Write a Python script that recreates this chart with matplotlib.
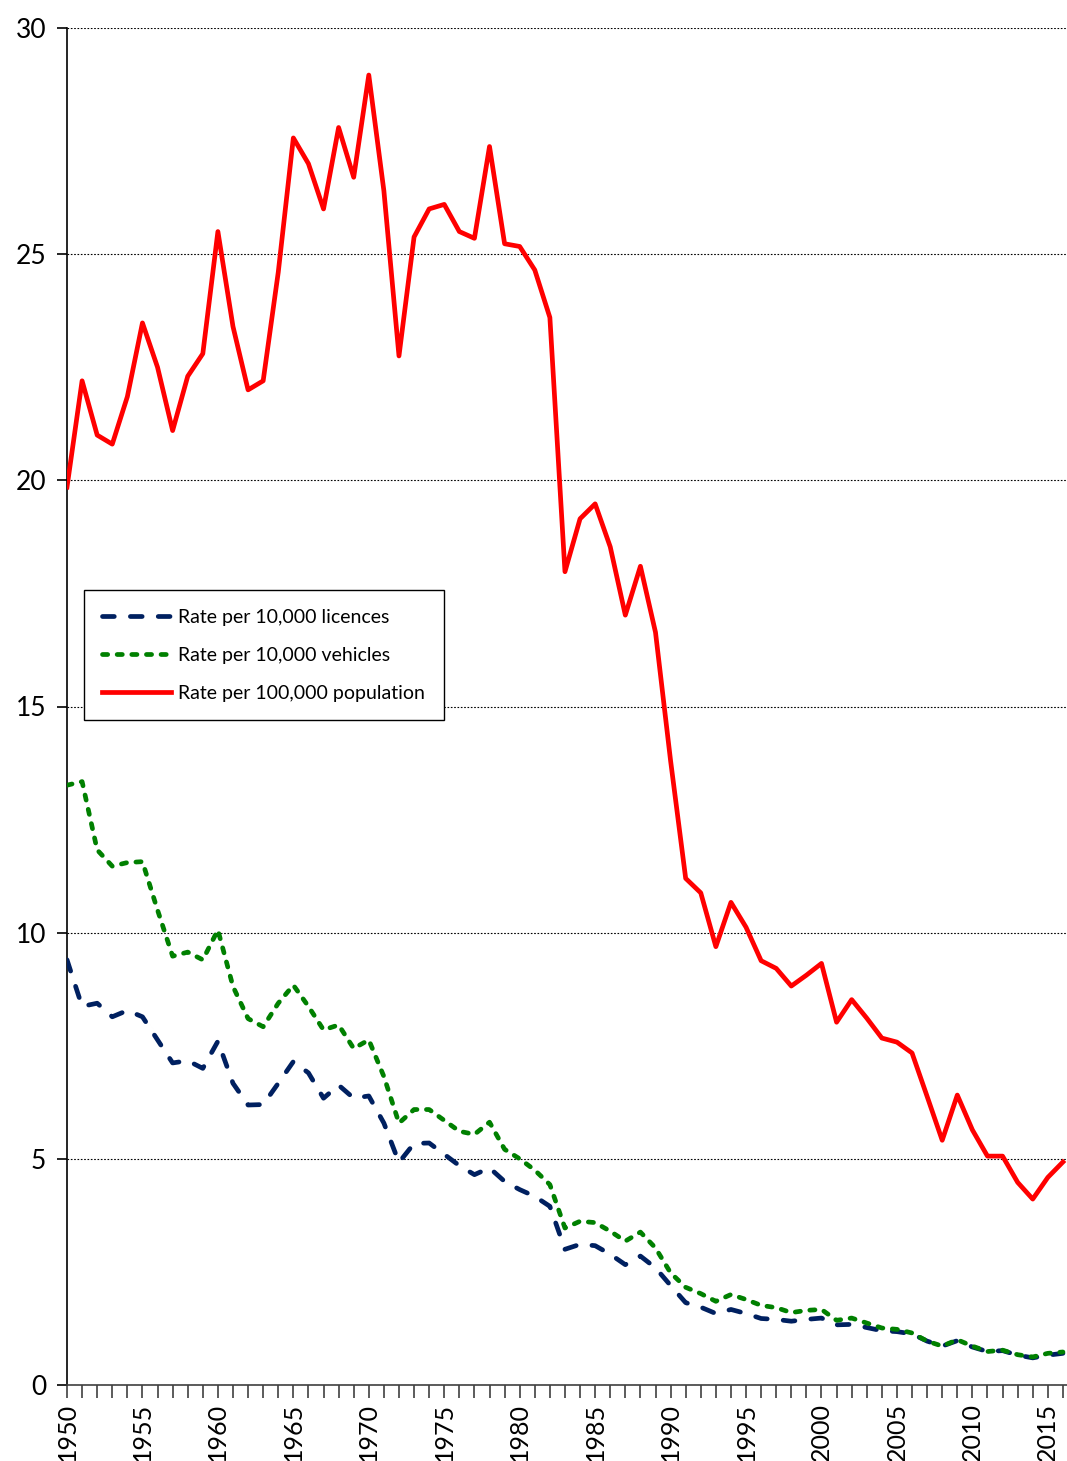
import matplotlib.pyplot as plt
from matplotlib.ticker import MultipleLocator

plt.rcParams['font.family'] = ['Lato', 'DejaVu Sans']

years = list(range(1950, 2017))

per_100k_population = [
    19.85, 22.2, 21.0, 20.8, 21.85, 23.48, 22.5, 21.1, 22.3, 22.8,
    25.5, 23.4, 22.0, 22.2, 24.6, 27.57, 27.0, 26.0, 27.8, 26.7,
    28.96, 26.4, 22.75, 25.38, 26.0, 26.1, 25.5, 25.35, 27.38, 25.23,
    25.17, 24.65, 23.6, 17.98, 19.15, 19.48, 18.53, 17.02, 18.1, 16.64,
    13.8, 11.2, 10.88, 9.69, 10.67, 10.12, 9.38, 9.21, 8.82, 9.06,
    9.32, 8.02, 8.52, 8.11, 7.67, 7.58, 7.34, 6.38, 5.41, 6.41,
    5.64, 5.06, 5.06, 4.48, 4.11, 4.59, 4.93,
]

per_10k_vehicles = [
    13.26, 13.34, 11.83, 11.47, 11.55, 11.57, 10.5, 9.48, 9.57, 9.4,
    10.06, 8.81, 8.1, 7.92, 8.44, 8.84, 8.37, 7.85, 7.96, 7.44,
    7.63, 6.82, 5.79, 6.09, 6.09, 5.85, 5.61, 5.54, 5.81, 5.21,
    5.0, 4.75, 4.43, 3.47, 3.62, 3.59, 3.4, 3.18, 3.38, 3.03,
    2.48, 2.16, 2.02, 1.85, 2.0, 1.89, 1.76, 1.71, 1.6, 1.65,
    1.67, 1.43, 1.48, 1.37, 1.26, 1.23, 1.15, 0.97, 0.86, 1.0,
    0.86, 0.74, 0.77, 0.67, 0.62, 0.7, 0.73,
]

per_10k_licences = [
    9.4, 8.37, 8.44, 8.14, 8.28, 8.14, 7.63, 7.12, 7.17, 7.0,
    7.6, 6.67, 6.19, 6.2, 6.67, 7.15, 6.9, 6.34, 6.63, 6.34,
    6.39, 5.79, 4.92, 5.34, 5.35, 5.1, 4.85, 4.65, 4.8, 4.5,
    4.32, 4.17, 3.95, 3.0, 3.11, 3.08, 2.89, 2.66, 2.85, 2.59,
    2.2, 1.82, 1.72, 1.58, 1.67, 1.58, 1.47, 1.45, 1.41, 1.45,
    1.48, 1.33, 1.34, 1.27, 1.2, 1.18, 1.13, 0.97, 0.86, 0.98,
    0.84, 0.74, 0.76, 0.66, 0.6, 0.66, 0.7,
]

fig = plt.figure(figsize=(10.67, 14.61), dpi=100)
ax = fig.add_axes([67 / 1067, 76 / 1461, 1000 / 1067, 1357 / 1461])

ax.plot(years, per_10k_licences, color='#002060', lw=3.4,
        dashes=(2.5, 3.4), dash_capstyle='round',
        label='Rate per 10,000 licences', zorder=3)
ax.plot(years, per_10k_vehicles, color='#008000', lw=3.4,
        dashes=(1.1, 2.0), dash_capstyle='round',
        label='Rate per 10,000 vehicles', zorder=3)
ax.plot(years, per_100k_population, color='#ff0000', lw=3.4,
        label='Rate per 100,000 population', zorder=4)

ax.set_xlim(1950, 2016.27)
ax.set_ylim(0, 30)
ax.yaxis.set_major_locator(MultipleLocator(5))
ax.xaxis.set_major_locator(MultipleLocator(5))
ax.xaxis.set_minor_locator(MultipleLocator(1))

ax.grid(axis='y', color='black', linestyle=(0, (1.5, 1.5)), linewidth=0.8)
ax.set_axisbelow(True)

for side in ['top', 'right']:
    ax.spines[side].set_visible(False)
ax.spines['left'].set_linewidth(1.2)
ax.spines['bottom'].set_linewidth(1.2)
ax.spines['bottom'].set_color('#404040')

ax.tick_params(axis='y', labelsize=19, length=7, width=1.2, pad=8)
ax.tick_params(axis='x', which='both', length=9, width=1.2, color='#404040')
ax.tick_params(axis='x', which='major', labelsize=18, labelrotation=90, pad=4)

leg = ax.legend(loc='lower left', bbox_to_anchor=(0.017, 0.49),
                fontsize=14, frameon=True, fancybox=False, framealpha=1,
                edgecolor='black', handlelength=3.5, handletextpad=0.4,
                labelspacing=1.08, borderpad=0.95, borderaxespad=0)
leg.get_frame().set_linewidth(1.0)

fig.savefig('out.png', dpi=100)
